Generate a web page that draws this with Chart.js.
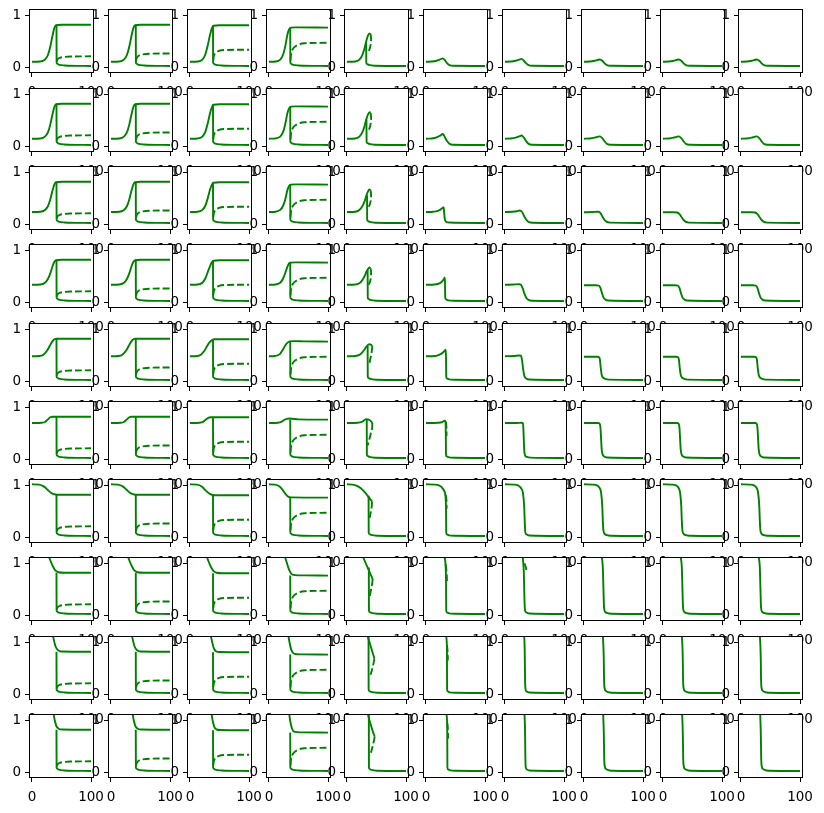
<!DOCTYPE html>
<html><head><meta charset="utf-8">
<script src="https://cdn.jsdelivr.net/npm/chart.js@4.4.1/dist/chart.umd.min.js"></script>
<style>
html,body{margin:0;padding:0;background:#fff;}
#fig{position:relative;width:824px;height:813px;overflow:hidden;background:#fff;}
#fig canvas{position:absolute;}
</style></head><body><div id="fig"></div>
<script>
// ---- tick values / labels ----
const xTickValues = [0, 100];
const yTickValues = [0, 1];

// ---- solid curve (upper stable branch / single trajectory), rows x cols, "x,y x,y ..." ----
const solidCurve = [
 ["0,.11 14,.115 22,.15 27,.24 31,.4 35,.62 38,.76 41,.81 50,.82 100,.82",
  "0,.11 14,.115 22,.15 27,.24 31,.4 35,.62 38,.76 41,.81 50,.82 100,.82",
  "0,.11 13,.115 21,.15 26,.25 30,.42 34,.63 37,.75 40,.8 50,.81 100,.81",
  "0,.11 11,.115 19,.15 24,.25 28,.43 31,.62 34,.73 37,.765 45,.77 100,.765",
  "0,.11 14,.115 21,.15 26,.24 30,.38 33,.52 35.5,.61 38,.655 40,.64",
  "0,.11 10,.115 18,.13 24,.155 28.5,.175 32,.14 36,.08 40,.045 46,.033 100,.03",
  "0,.11 10,.115 18,.13 24,.15 28,.165 32,.13 36,.08 40,.045 46,.033 100,.03",
  "0,.11 10,.115 18,.13 23,.145 27,.155 31,.13 35,.08 39,.045 45,.033 100,.03",
  "0,.11 10,.115 18,.13 23,.145 27,.155 31,.13 35,.08 39,.045 45,.033 100,.03",
  "0,.11 10,.115 18,.13 23,.145 27,.155 31,.13 35,.08 39,.045 45,.033 100,.03"],
 ["0,.15 14,.155 22,.19 27,.27 31,.42 35,.63 38,.76 41,.81 50,.82 100,.82",
  "0,.15 14,.155 22,.19 27,.27 31,.42 35,.63 38,.76 41,.81 50,.82 100,.82",
  "0,.15 13,.155 21,.19 26,.28 30,.44 34,.64 37,.75 40,.8 50,.81 100,.81",
  "0,.15 11,.155 19,.19 24,.28 28,.45 31,.63 34,.73 37,.765 45,.77 100,.765",
  "0,.15 14,.155 21,.19 26,.27 30,.4 33,.53 35.5,.61 38,.66 40,.645",
  "0,.15 10,.155 18,.175 24,.21 28.5,.24 32,.18 36,.1 40,.05 46,.035 100,.03",
  "0,.15 10,.155 18,.17 24,.195 28,.21 32,.17 36,.1 40,.05 46,.035 100,.03",
  "0,.15 10,.155 18,.17 23,.185 27,.195 31,.16 35,.1 39,.05 45,.035 100,.03",
  "0,.15 10,.155 18,.17 23,.185 27,.195 31,.16 35,.1 39,.05 45,.035 100,.03",
  "0,.15 10,.155 18,.17 23,.185 27,.195 31,.16 35,.1 39,.05 45,.035 100,.03"],
 ["0,.24 14,.245 22,.28 27,.35 31,.48 35,.66 38,.77 41,.81 50,.82 100,.82",
  "0,.24 14,.245 22,.28 27,.35 31,.48 35,.66 38,.77 41,.81 50,.82 100,.82",
  "0,.24 13,.245 21,.28 26,.36 30,.5 34,.67 37,.76 40,.8 50,.81 100,.81",
  "0,.24 11,.245 19,.28 24,.36 28,.5 31,.65 34,.74 37,.765 45,.77 100,.765",
  "0,.24 14,.245 21,.28 26,.35 30,.45 33,.56 35.5,.63 38,.67 40,.655",
  "0,.24 12,.245 20,.26 25,.29 29,.325 30,.33 31,.2 32,.1 34,.055 40,.038 100,.03",
  "0,.24 12,.245 20,.255 25,.27 29,.24 33,.15 37,.08 41,.045 47,.034 100,.03",
  "0,.235 15,.24 22,.245 25,.245 28,.22 31,.16 34,.1 38,.055 44,.036 100,.03",
  "0,.235 18,.235 24,.23 28,.2 31,.15 34,.1 38,.055 44,.036 100,.03",
  "0,.235 18,.235 24,.23 28,.2 31,.15 34,.1 38,.055 44,.036 100,.03"],
 ["0,.34 14,.345 22,.38 27,.45 31,.56 35,.7 38,.78 41,.81 50,.82 100,.82",
  "0,.34 14,.345 22,.38 27,.45 31,.56 35,.7 38,.78 41,.81 50,.82 100,.82",
  "0,.34 13,.345 21,.38 26,.46 30,.58 34,.7 37,.77 40,.8 50,.81 100,.81",
  "0,.34 11,.345 19,.38 24,.46 28,.58 31,.68 34,.75 37,.765 45,.77 100,.765",
  "0,.34 14,.345 21,.37 26,.43 30,.51 33,.59 35.5,.64 38,.67 40,.655",
  "0,.34 14,.345 21,.36 26,.39 30,.44 32,.48 32.3,.3 32.6,.1 34,.06 38,.042 48,.033 100,.03",
  "0,.34 15,.345 24,.35 27,.34 30,.27 33,.17 36,.09 40,.05 46,.035 100,.03",
  "0,.33 20,.33 25,.325 27.5,.29 30,.2 33,.1 36,.06 41,.04 100,.03",
  "0,.33 20,.33 25,.325 27.5,.29 30,.2 33,.1 36,.06 41,.04 100,.03",
  "0,.33 20,.33 25,.325 27.5,.29 30,.2 33,.1 36,.06 41,.04 100,.03"],
 ["0,.485 12,.49 20,.52 26,.6 30,.68 34,.76 38,.81 42,.82 100,.82",
  "0,.485 12,.49 20,.52 26,.6 30,.68 34,.76 38,.81 42,.82 100,.82",
  "0,.485 12,.49 19,.52 25,.6 29,.68 33,.75 37,.79 41,.81 100,.81",
  "0,.485 10,.49 18,.52 23,.6 27,.68 31,.74 35,.77 40,.775 60,.77 100,.765",
  "0,.485 14,.49 21,.51 26,.56 30,.62 33,.67 36,.705 38.5,.715 41,.7 43,.68",
  "0,.485 16,.49 22,.51 27,.54 31,.58 33.5,.61 34,.45 34.3,.1 35.5,.06 39,.042 49,.033 100,.03",
  "0,.485 15,.49 24,.5 27,.495 29,.4 31,.22 33,.1 36,.06 41,.04 100,.03",
  "0,.475 22,.475 25.5,.465 27,.42 28.5,.25 30,.13 32,.08 36,.05 42,.036 100,.03",
  "0,.475 22,.475 25.5,.465 27,.42 28.5,.25 30,.13 32,.08 36,.05 42,.036 100,.03",
  "0,.475 22,.475 25.5,.465 27,.42 28.5,.25 30,.13 32,.08 36,.05 42,.036 100,.03"],
 ["0,.7 16,.705 22,.72 27,.77 31,.81 35,.82 100,.82",
  "0,.7 16,.705 22,.72 27,.77 31,.81 35,.82 100,.82",
  "0,.7 16,.705 22,.72 27,.765 31,.8 35,.81 100,.81",
  "0,.7 15,.705 21,.72 26,.76 30,.78 35,.785 50,.77 100,.765",
  "0,.7 18,.705 25,.72 29,.75 32.5,.775 36,.77 40,.74 43,.7",
  "0,.7 20,.705 27,.715 31,.74 33,.745 33.6,.5 33.9,.1 35,.06 39,.042 49,.033 100,.03",
  "0,.7 20,.7 28,.705 30.5,.69 31.5,.5 32.5,.2 34,.08 37,.05 43,.037 100,.03",
  "0,.7 24,.7 26.5,.69 28,.6 29,.4 30,.2 31.5,.1 34,.06 39,.04 100,.03",
  "0,.7 24,.7 26.5,.69 28,.6 29,.4 30,.2 31.5,.1 34,.06 39,.04 100,.03",
  "0,.7 24,.7 26.5,.69 28,.6 29,.4 30,.2 31.5,.1 34,.06 39,.04 100,.03"],
 ["0,1.02 12,1.015 20,.98 26,.92 32,.86 37,.83 42,.82 100,.82",
  "0,1.02 12,1.015 20,.98 26,.92 32,.86 37,.83 42,.82 100,.82",
  "0,1.02 12,1.015 20,.98 26,.91 32,.85 37,.82 42,.81 100,.81",
  "0,1.02 10,1.015 18,.98 24,.9 29,.82 33,.78 38,.77 100,.765",
  "0,1.02 10,1.015 17,.99 24,.94 30,.87 35,.8 39,.74 42.5,.69",
  "0,1.02 15,1.015 22,1 27,.96 30.5,.9 33,.8 34,.5 34.3,.1 35.5,.06 39,.042 49,.033 100,.03",
  "0,1.02 15,1.015 22,1 27,.95 30.5,.85 32.5,.6 33.5,.3 34.5,.1 36.5,.06 41,.04 100,.03",
  "0,1.02 15,1.015 22,1 26,.96 29,.86 31,.6 32,.3 33,.13 35,.07 39,.045 45,.035 100,.03",
  "0,1.02 15,1.015 22,1 26,.96 29,.86 31,.6 32,.3 33,.13 35,.07 39,.045 45,.035 100,.03",
  "0,1.02 15,1.015 22,1 26,.96 29,.86 31,.6 32,.3 33,.13 35,.07 39,.045 45,.035 100,.03"],
 ["0,1.47 12,1.46 20,1.38 26,1.22 31,1.06 36,.93 40,.86 45,.83 55,.82 100,.82",
  "0,1.47 12,1.46 20,1.38 26,1.22 31,1.06 36,.93 40,.86 45,.83 55,.82 100,.82",
  "0,1.47 12,1.46 20,1.38 26,1.22 31,1.05 36,.92 40,.85 45,.82 55,.81 100,.81",
  "0,1.47 12,1.46 20,1.36 25,1.2 30,1.02 34,.88 38,.8 44,.775 60,.77 100,.765",
  "0,1.47 12,1.45 20,1.33 26,1.16 30,1.05 35,.92 40,.79 43.5,.7",
  "0,1.47 15,1.46 22,1.4 27,1.28 31,1.12 33,1 34,.6 34.3,.1 35.5,.06 39,.042 49,.033 100,.03",
  "0,1.47 15,1.46 22,1.42 27,1.3 30,1.12 32,.8 33,.3 34,.1 36,.06 41,.04 100,.03",
  "0,1.47 15,1.46 22,1.4 27,1.25 30,1.12 32,.9 33,.5 34,.15 36,.07 40,.045 46,.035 100,.03",
  "0,1.47 15,1.46 22,1.4 27,1.25 30,1.12 32,.9 33,.5 34,.15 36,.07 40,.045 46,.035 100,.03",
  "0,1.47 15,1.46 22,1.4 27,1.25 30,1.12 32,.9 33,.5 34,.15 36,.07 40,.045 46,.035 100,.03"],
 ["0,2.15 15,2.12 25,1.8 31,1.4 36,1.1 40,.92 44,.85 50,.825 100,.82",
  "0,2.15 15,2.12 25,1.8 31,1.4 36,1.1 40,.92 44,.85 50,.825 100,.82",
  "0,2.15 15,2.12 25,1.8 31,1.4 36,1.09 40,.9 44,.83 50,.815 100,.81",
  "0,2.15 15,2.12 25,1.75 30,1.35 34,1.05 38,.85 43,.78 55,.77 100,.765",
  "0,2.15 15,2.1 25,1.6 31,1.25 35.5,1.1 40,.93 44,.78 46.5,.69",
  "0,2.15 15,2.1 25,1.8 31,1.35 34,1.12 35.5,.9 35.8,.1 37,.06 40,.042 50,.033 100,.03",
  "0,2.15 15,2.1 25,1.7 30,1.3 32.5,1.12 33.5,.8 34,.3 34.8,.1 36.5,.06 41,.04 100,.03",
  "0,2.15 15,2.1 24,1.75 29,1.35 32,1.12 33.5,.7 34,.3 35,.12 37,.07 41,.045 47,.035 100,.03",
  "0,2.15 15,2.1 24,1.75 29,1.35 32,1.12 33.5,.7 34,.3 35,.12 37,.07 41,.045 47,.035 100,.03",
  "0,2.15 15,2.1 24,1.75 29,1.35 32,1.12 33.5,.7 34,.3 35,.12 37,.07 41,.045 47,.035 100,.03"],
 ["0,3.16 15,3.1 25,2.5 32,1.7 37,1.1 41,.9 45,.84 52,.825 100,.82",
  "0,3.16 15,3.1 25,2.5 32,1.7 37,1.1 41,.9 45,.84 52,.825 100,.82",
  "0,3.16 15,3.1 25,2.5 32,1.7 37,1.09 41,.88 45,.825 52,.815 100,.81",
  "0,3.16 15,3.1 25,2.4 31,1.6 35,1.06 39,.84 44,.78 55,.77 100,.765",
  "0,3.16 15,3.05 25,2.2 31,1.5 35.5,1.12 40,.93 44,.78 47,.69",
  "0,3.16 15,3.05 25,2.4 31,1.6 34.5,1.12 36,.9 36.3,.1 37.5,.06 41,.042 50,.033 100,.03",
  "0,3.16 15,3.05 25,2.3 30,1.5 33,1.12 34,.8 34.5,.3 35.2,.1 37,.06 41,.04 100,.03",
  "0,3.16 15,3.05 24,2.4 29,1.7 32.5,1.12 33.7,.7 34.2,.3 35.2,.12 37.2,.07 41,.045 47,.035 100,.03",
  "0,3.16 15,3.05 24,2.4 29,1.7 32.5,1.12 33.7,.7 34.2,.3 35.2,.12 37.2,.07 41,.045 47,.035 100,.03",
  "0,3.16 15,3.05 24,2.4 29,1.7 32.5,1.12 33.7,.7 34.2,.3 35.2,.12 37.2,.07 41,.045 47,.035 100,.03"]
];

// ---- solid drop + lower stable branch: columns 0-3 (same in every row) ----
const lowerBranchCols0to3 = [
  "41.5,.82 41.7,.1 42.5,.075 45.5,.055 55,.04 100,.03",
  "42,.82 42.2,.1 43,.075 46,.055 56,.04 100,.03",
  "39,.81 39.2,.1 40,.075 43,.055 53,.04 100,.03",
  "36,.765 36.2,.1 37,.075 40,.055 50,.04 100,.03"
];
// ---- solid drop + lower branch in column 4, per row ----
const lowerBranchCol4 = [
  "32.5,.48 32.7,.1 33.5,.07 37,.05 47,.035 100,.03",
  "33,.52 33.2,.1 34,.07 37.5,.05 47,.035 100,.03",
  "34,.56 34.2,.1 35,.07 38.5,.05 48,.035 100,.03",
  "35,.62 35.2,.1 36,.07 39.5,.05 49,.035 100,.03",
  "35,.68 35.2,.1 36,.07 39.5,.05 49,.035 100,.03",
  "33.5,.775 33.7,.1 34.5,.07 38,.05 48,.035 100,.03",
  "36.6,.8 36.8,.1 37.6,.07 41,.05 51,.035 100,.03",
  "37,.92 37.2,.1 38,.07 41.5,.05 51,.035 100,.03",
  "36.5,1.2 36.7,.1 37.5,.07 41,.05 51,.035 100,.03",
  "37,1.2 37.2,.1 38,.07 41.5,.05 51,.035 100,.03"
];

// ---- dashed (unstable) branch: columns 0-3 (same in every row) ----
const dashedCols0to3 = [
  "42,.12 43.5,.16 47,.185 53,.2 65,.21 100,.215",
  "42.5,.13 44,.19 47.5,.23 53,.25 65,.265 100,.27",
  "39.5,.14 40.5,.22 43,.28 48,.315 58,.335 100,.34",
  "36.5,.14 37,.22 39,.32 43,.39 50,.44 60,.465 100,.475"
];
// ---- dashed branch, column 4, per row ----
const dashedCol4 = [
  "40,.64 40.8,.57 40.5,.47 39,.38 37,.32",
  "40,.645 40.8,.57 40.5,.47 39,.38 37,.32",
  "40,.655 40.8,.58 40.5,.48 39,.4 37,.34",
  "40,.655 40.8,.58 40.5,.48 39,.4 37,.34",
  "43,.68 42,.58 40,.46 37.5,.32",
  "43,.7 42.5,.6 40,.48 37,.35 35,.27",
  "42.5,.69 42,.6 40.5,.5 38.5,.38",
  "43.5,.7 42.5,.6 40.5,.48 38.5,.36",
  "46.5,.69 45,.6 42.5,.48 40,.38",
  "47,.69 45.5,.6 43,.48 40.5,.38"
];
// ---- short dashed pieces, column 5 (rows 5-9) and column 6 (row 7) ----
const dashedCol5 = ["", "", "", "", "",
  "33.5,.73 34.7,.62 34.8,.45",
  "33.5,.82 34.8,.7 35,.55",
  "33.5,.98 35.2,.78 35.6,.62",
  "35.6,.95 36.8,.8 37,.65",
  "36.2,.95 37.2,.8 37.4,.65"];
const dashedCol6 = ["", "", "", "", "", "", "", "33,1.0 35.5,.92 36.5,.82", "", ""];

// ---------------- layout / style ----------------
const LEFT0 = 29.3, DX = 78.78, TOP0 = 9.3, DY = 78.3, PW = 65, PH = 66;
const YW = 34, XH = 32, PAD_T = 10, PAD_R = 20;
const GREEN = '#008000';
const FONT = {family: "'DejaVu Sans', sans-serif", size: 13.5};

function parsePts(s) {
  if (!s) return [];
  return s.trim().split(/\s+/).map(p => { const [x, y] = p.split(',').map(Number); return {x, y}; });
}

const panelBg = {id: 'panelBg', beforeDraw(chart) {
  const {ctx, chartArea: a} = chart;
  ctx.save(); ctx.fillStyle = '#fff';
  ctx.fillRect(a.left, a.top, a.right - a.left, a.bottom - a.top); ctx.restore();
}};
const frame = {id: 'frame', afterDraw(chart) {
  const {ctx, chartArea: a} = chart;
  ctx.save(); ctx.strokeStyle = '#000'; ctx.lineWidth = 1;
  ctx.strokeRect(Math.round(a.left) + 0.5, Math.round(a.top) + 0.5,
                 Math.round(a.right - a.left) - 1, Math.round(a.bottom - a.top) - 1);
  ctx.restore();
}};

const fig = document.getElementById('fig');
for (let r = 0; r < 10; r++) {
  for (let c = 0; c < 10; c++) {
    const pl = Math.round(LEFT0 + c * DX), pt = Math.round(TOP0 + r * DY);
    const cv = document.createElement('canvas');
    const W = YW + PW + PAD_R, H = PAD_T + PH + XH;
    cv.width = W; cv.height = H;
    cv.style.width = W + 'px'; cv.style.height = H + 'px';
    cv.style.left = (pl - YW) + 'px'; cv.style.top = (pt - PAD_T) + 'px';
    fig.appendChild(cv);

    const solidStyle = {borderColor: GREEN, borderWidth: 1.9, pointRadius: 0, showLine: true,
      fill: false, cubicInterpolationMode: 'monotone', clip: 0, borderJoinStyle: 'round'};
    const dashStyle = {borderColor: GREEN, borderWidth: 1.9, pointRadius: 0, showLine: true,
      fill: false, tension: 0.35, borderDash: [7, 3], clip: 0};

    const datasets = [];
    datasets.push(Object.assign({data: parsePts(solidCurve[r][c])}, solidStyle));
    let low = '', dash = '';
    if (c < 4) { low = lowerBranchCols0to3[c]; dash = dashedCols0to3[c]; }
    else if (c === 4) { low = lowerBranchCol4[r]; dash = dashedCol4[r]; }
    else if (c === 5) { dash = dashedCol5[r]; }
    else if (c === 6) { dash = dashedCol6[r]; }
    if (low) datasets.push(Object.assign({data: parsePts(low)}, solidStyle));
    if (dash) datasets.push(Object.assign({data: parsePts(dash)}, dashStyle));

    const chart = new Chart(cv, {
      type: 'scatter',
      data: {datasets},
      options: {
        responsive: false, animation: false, devicePixelRatio: 1, events: [],
        layout: {padding: {left: 0, top: PAD_T, right: PAD_R, bottom: 0}},
        plugins: {legend: {display: false}, tooltip: {enabled: false}},
        scales: {
          x: {type: 'linear', min: -5, max: 105,
            afterBuildTicks: s => { s.ticks = xTickValues.map(v => ({value: v})); },
            afterFit: s => { s.height = XH; },
            ticks: {font: FONT, color: '#000', padding: 7.5, maxRotation: 0, autoSkip: false},
            grid: {drawOnChartArea: false, drawTicks: true, tickLength: 4, color: '#000', lineWidth: 1},
            border: {display: false}},
          y: {type: 'linear', min: -0.105, max: 1.12,
            afterBuildTicks: s => { s.ticks = yTickValues.map(v => ({value: v})); },
            afterFit: s => { s.width = YW; },
            ticks: {font: FONT, color: '#000', padding: 4, autoSkip: false},
            grid: {drawOnChartArea: false, drawTicks: true, tickLength: 4, color: '#000', lineWidth: 1},
            border: {display: false}}
        }
      },
      plugins: [panelBg, frame]
    });
    // align chart area to the panel rectangle
    const a = chart.chartArea;
    cv.style.left = (pl - a.left) + 'px';
    cv.style.top = (pt - a.top) + 'px';
  }
}
</script>
</body></html>
